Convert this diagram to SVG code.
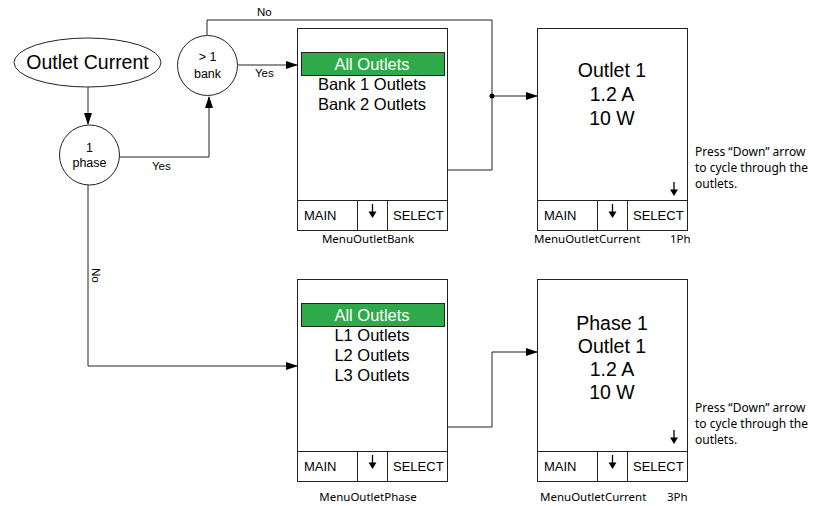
<svg xmlns="http://www.w3.org/2000/svg" width="814" height="506" viewBox="0 0 814 506">
<style>
.ln{fill:none;stroke:#222;stroke-width:1}
.box{fill:#fff;stroke:#222;stroke-width:1}
.t{font-family:"Liberation Sans",Arial,sans-serif;fill:#000}
.big{font-size:16.5px;text-anchor:middle}
.val{font-size:19.5px;text-anchor:middle}
.ft{font-size:13px}
.lab{font-family:"Noto Sans","Open Sans",sans-serif;font-size:11.5px;fill:#000}
.note{font-family:"Noto Sans","Open Sans",sans-serif;font-size:12px;fill:#000}
.cl{font-family:"Liberation Sans",Arial,sans-serif;font-size:11.5px;fill:#000}
.ct{font-family:"Liberation Sans",Arial,sans-serif;font-size:12.5px;fill:#000;text-anchor:middle}
.hl{fill:#2eaa4a;stroke:#222;stroke-width:1}
.dn{fill:none;stroke:#000;stroke-width:1.3}
</style>
<defs>
<marker id="ah" markerWidth="12" markerHeight="8" refX="11" refY="4" orient="auto" markerUnits="userSpaceOnUse">
<path d="M0,0 L12,4 L0,8 Z" fill="#000"/>
</marker>
<g id="down">
<path class="dn" d="M0,-6 V3"/>
<path d="M-4,1.5 L4,1.5 L0,8 Z" fill="#000"/>
</g>
</defs>
<rect width="814" height="506" fill="#fff"/>

<g id="connectors">
<path class="ln" d="M88,87 V124" marker-end="url(#ah)"/>
<path class="ln" d="M120,157 H209 V97" marker-end="url(#ah)"/>
<path class="ln" d="M238,65 H297" marker-end="url(#ah)"/>
<path class="ln" d="M207,35 V20 H492 V170 H448"/>
<circle cx="492" cy="96" r="2.5" fill="#000"/>
<path class="ln" d="M492,96 H537" marker-end="url(#ah)"/>
<path class="ln" d="M88,185 V366 H297" marker-end="url(#ah)"/>
<path class="ln" d="M448,427 H492 V352 H537" marker-end="url(#ah)"/>
<text class="cl" x="257" y="16">No</text>
<text class="cl" x="255" y="77">Yes</text>
<text class="cl" x="152" y="170">Yes</text>
<text class="cl" transform="translate(92,268) rotate(90)">No</text>
</g>

<g id="start">
<ellipse cx="87.5" cy="62.5" rx="73.5" ry="24.5" class="box"/>
<text class="t" x="87.5" y="69" font-size="19.5" text-anchor="middle">Outlet Current</text>
</g>

<g id="phase">
<circle cx="89.5" cy="155" r="30" class="box"/>
<text class="ct" x="89.5" y="152">1</text>
<text class="ct" x="89.5" y="167">phase</text>
</g>

<g id="bank">
<circle cx="207.5" cy="65.5" r="30" class="box"/>
<text class="ct" x="207.5" y="61">&gt; 1</text>
<text class="ct" x="207.5" y="78">bank</text>
</g>

<g id="menuOutletBank">
<rect class="box" x="297.5" y="28.5" width="150" height="202"/>
<path class="ln" d="M297.5,200.5 H447.5 M357.5,200.5 V230.5 M387.5,200.5 V230.5"/>
<rect class="hl" x="301.5" y="52.5" width="143" height="23"/>
<text class="t big" x="372" y="70" style="fill:#fff">All Outlets</text>
<text class="t big" x="372" y="90">Bank 1 Outlets</text>
<text class="t big" x="372" y="110">Bank 2 Outlets</text>
<text class="t ft" x="304" y="220">MAIN</text>
<use href="#down" x="372.5" y="210"/>
<text class="t ft" x="393" y="220">SELECT</text>
<text class="lab" x="368" y="243" text-anchor="middle">MenuOutletBank</text>
</g>

<g id="menuOutletCurrent1">
<rect class="box" x="537.5" y="28.5" width="150" height="202"/>
<path class="ln" d="M537.5,200.5 H687.5 M597.5,200.5 V230.5 M627.5,200.5 V230.5"/>
<text class="t val" x="612" y="77">Outlet 1</text>
<text class="t val" x="612" y="101">1.2 A</text>
<text class="t val" x="612" y="125">10 W</text>
<use href="#down" x="674" y="188"/>
<text class="t ft" x="544" y="220">MAIN</text>
<use href="#down" x="612.5" y="210"/>
<text class="t ft" x="633" y="220">SELECT</text>
<text class="lab" x="534" y="243">MenuOutletCurrent</text>
<text class="lab" x="670" y="243">1Ph</text>
<text class="note" x="695" y="156">Press “Down” arrow</text>
<text class="note" x="695" y="172">to cycle through the</text>
<text class="note" x="695" y="188">outlets.</text>
</g>

<g id="menuOutletPhase">
<rect class="box" x="297.5" y="279.5" width="150" height="202"/>
<path class="ln" d="M297.5,451.5 H447.5 M357.5,451.5 V481.5 M387.5,451.5 V481.5"/>
<rect class="hl" x="301.5" y="303.5" width="143" height="23"/>
<text class="t big" x="372" y="321" style="fill:#fff">All Outlets</text>
<text class="t big" x="372" y="341">L1 Outlets</text>
<text class="t big" x="372" y="361">L2 Outlets</text>
<text class="t big" x="372" y="381">L3 Outlets</text>
<text class="t ft" x="304" y="471">MAIN</text>
<use href="#down" x="372.5" y="461"/>
<text class="t ft" x="393" y="471">SELECT</text>
<text class="lab" x="368" y="501" text-anchor="middle">MenuOutletPhase</text>
</g>

<g id="menuOutletCurrent3">
<rect class="box" x="537.5" y="279.5" width="150" height="202"/>
<path class="ln" d="M537.5,451.5 H687.5 M597.5,451.5 V481.5 M627.5,451.5 V481.5"/>
<text class="t val" x="612" y="330">Phase 1</text>
<text class="t val" x="612" y="353">Outlet 1</text>
<text class="t val" x="612" y="376">1.2 A</text>
<text class="t val" x="612" y="399">10 W</text>
<use href="#down" x="674" y="436"/>
<text class="t ft" x="544" y="471">MAIN</text>
<use href="#down" x="612.5" y="461"/>
<text class="t ft" x="633" y="471">SELECT</text>
<text class="lab" x="540" y="501">MenuOutletCurrent</text>
<text class="lab" x="667" y="501">3Ph</text>
<text class="note" x="695" y="412">Press “Down” arrow</text>
<text class="note" x="695" y="428">to cycle through the</text>
<text class="note" x="695" y="444">outlets.</text>
</g>
</svg>
